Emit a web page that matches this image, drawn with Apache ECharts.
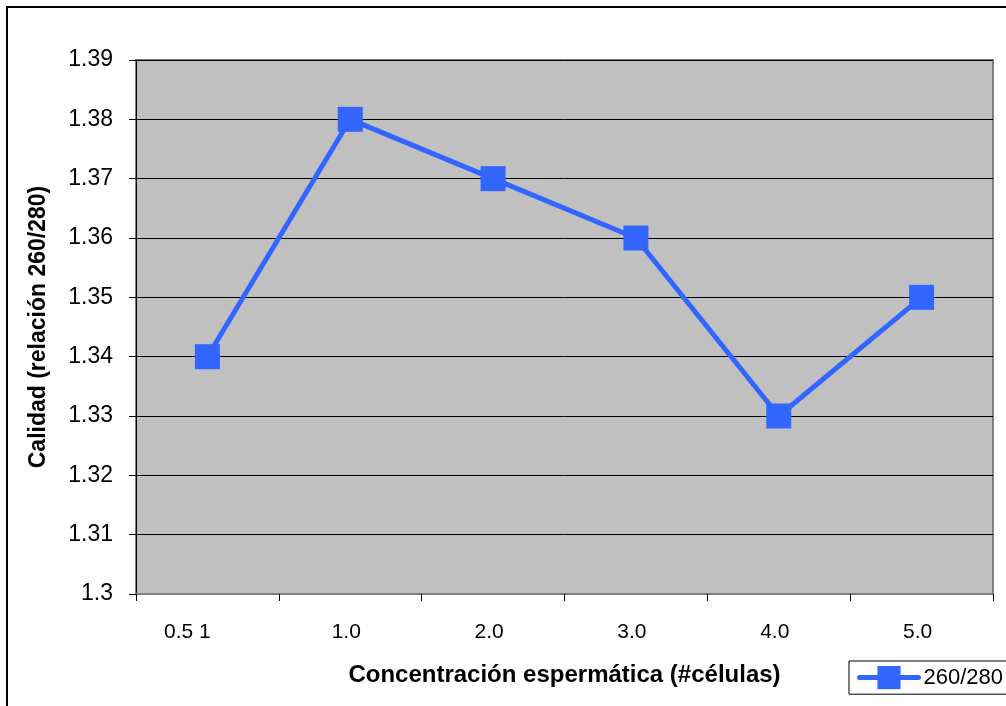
<!DOCTYPE html>
<html>
<head>
<meta charset="utf-8">
<script src="https://cdn.jsdelivr.net/npm/echarts@6/dist/echarts.min.js"></script>
<style>
  html, body { margin: 0; padding: 0; background: #fff; }
  #chart { width: 1006px; height: 706px; }
</style>
</head>
<body>
<div id="chart"></div>
<script>
// Sperm concentration categories and the 260/280 quality ratio measured for each
const categories = ['0.5 1', '1.0', '2.0', '3.0', '4.0', '5.0'];
const ratio260280 = [1.34, 1.38, 1.37, 1.36, 1.33, 1.35];
const seriesName = '260/280';
const yMin = 1.3, yMax = 1.39, yStep = 0.01;

const FONT = '"Liberation Sans", Arial, sans-serif';
const chart = echarts.init(document.getElementById('chart'), null, { renderer: 'canvas' });

// The first category label sits a little left of its slot
const categoryItems = categories.map((c, i) =>
  i === 0 ? { value: c, textStyle: { padding: [0, 40, 0, 0] } } : c);

chart.setOption({
  backgroundColor: '#ffffff',
  animation: false,
  graphic: [{
    type: 'rect',
    z: 100,
    shape: { x: 7, y: 7, width: 1100, height: 800 },
    style: { fill: 'none', stroke: '#000', lineWidth: 2 }
  }],
  grid: {
    left: 136, top: 60, right: 13, bottom: 112,
    show: true,
    backgroundColor: '#C0C0C0',
    borderColor: '#808080',
    borderWidth: 2
  },
  legend: {
    left: 849, top: 661,
    padding: [5, 60, 5, 8],
    backgroundColor: '#fff',
    borderColor: '#000',
    borderWidth: 1,
    borderRadius: 0,
    itemWidth: 59,
    itemHeight: 29,
    itemGap: 4,
    lineStyle: { width: 5, cap: 'round' },
    textStyle: { fontFamily: FONT, fontSize: 22, color: '#000' },
    data: [seriesName]
  },
  xAxis: {
    type: 'category',
    data: categoryItems,
    boundaryGap: true,
    name: 'Concentración espermática (#células)',
    nameLocation: 'middle',
    nameGap: 69,
    nameTextStyle: { fontFamily: FONT, fontSize: 24, fontWeight: 'bold', color: '#000' },
    axisLine: { lineStyle: { color: '#808080', width: 2 } },
    axisTick: { show: true, interval: 0, length: 7, lineStyle: { color: '#000' } },
    axisLabel: { interval: 0, margin: 28, padding: [0, 8, 0, 0], fontFamily: FONT, fontSize: 21, color: '#000' },
    splitLine: { show: false }
  },
  yAxis: {
    type: 'value',
    min: yMin, max: yMax, interval: yStep,
    name: 'Calidad (relación 260/280)',
    nameLocation: 'middle',
    nameRotate: 90,
    nameGap: 86,
    nameTextStyle: { fontFamily: FONT, fontSize: 23, fontWeight: 'bold', color: '#000' },
    axisLine: { show: true, lineStyle: { color: '#000', width: 1 } },
    axisTick: { show: true, length: 7, lineStyle: { color: '#000' } },
    axisLabel: {
      margin: 23, fontFamily: FONT, fontSize: 23, color: '#000',
      formatter: v => String(Math.round(v * 100) / 100)
    },
    splitLine: { show: true, lineStyle: { color: '#000', width: 1 } }
  },
  series: [{
    name: seriesName,
    type: 'line',
    data: ratio260280,
    symbol: 'rect',
    symbolSize: 25,
    lineStyle: { color: '#3366FF', width: 5 },
    itemStyle: { color: '#3366FF' },
    z: 5
  }]
});
</script>
</body>
</html>
